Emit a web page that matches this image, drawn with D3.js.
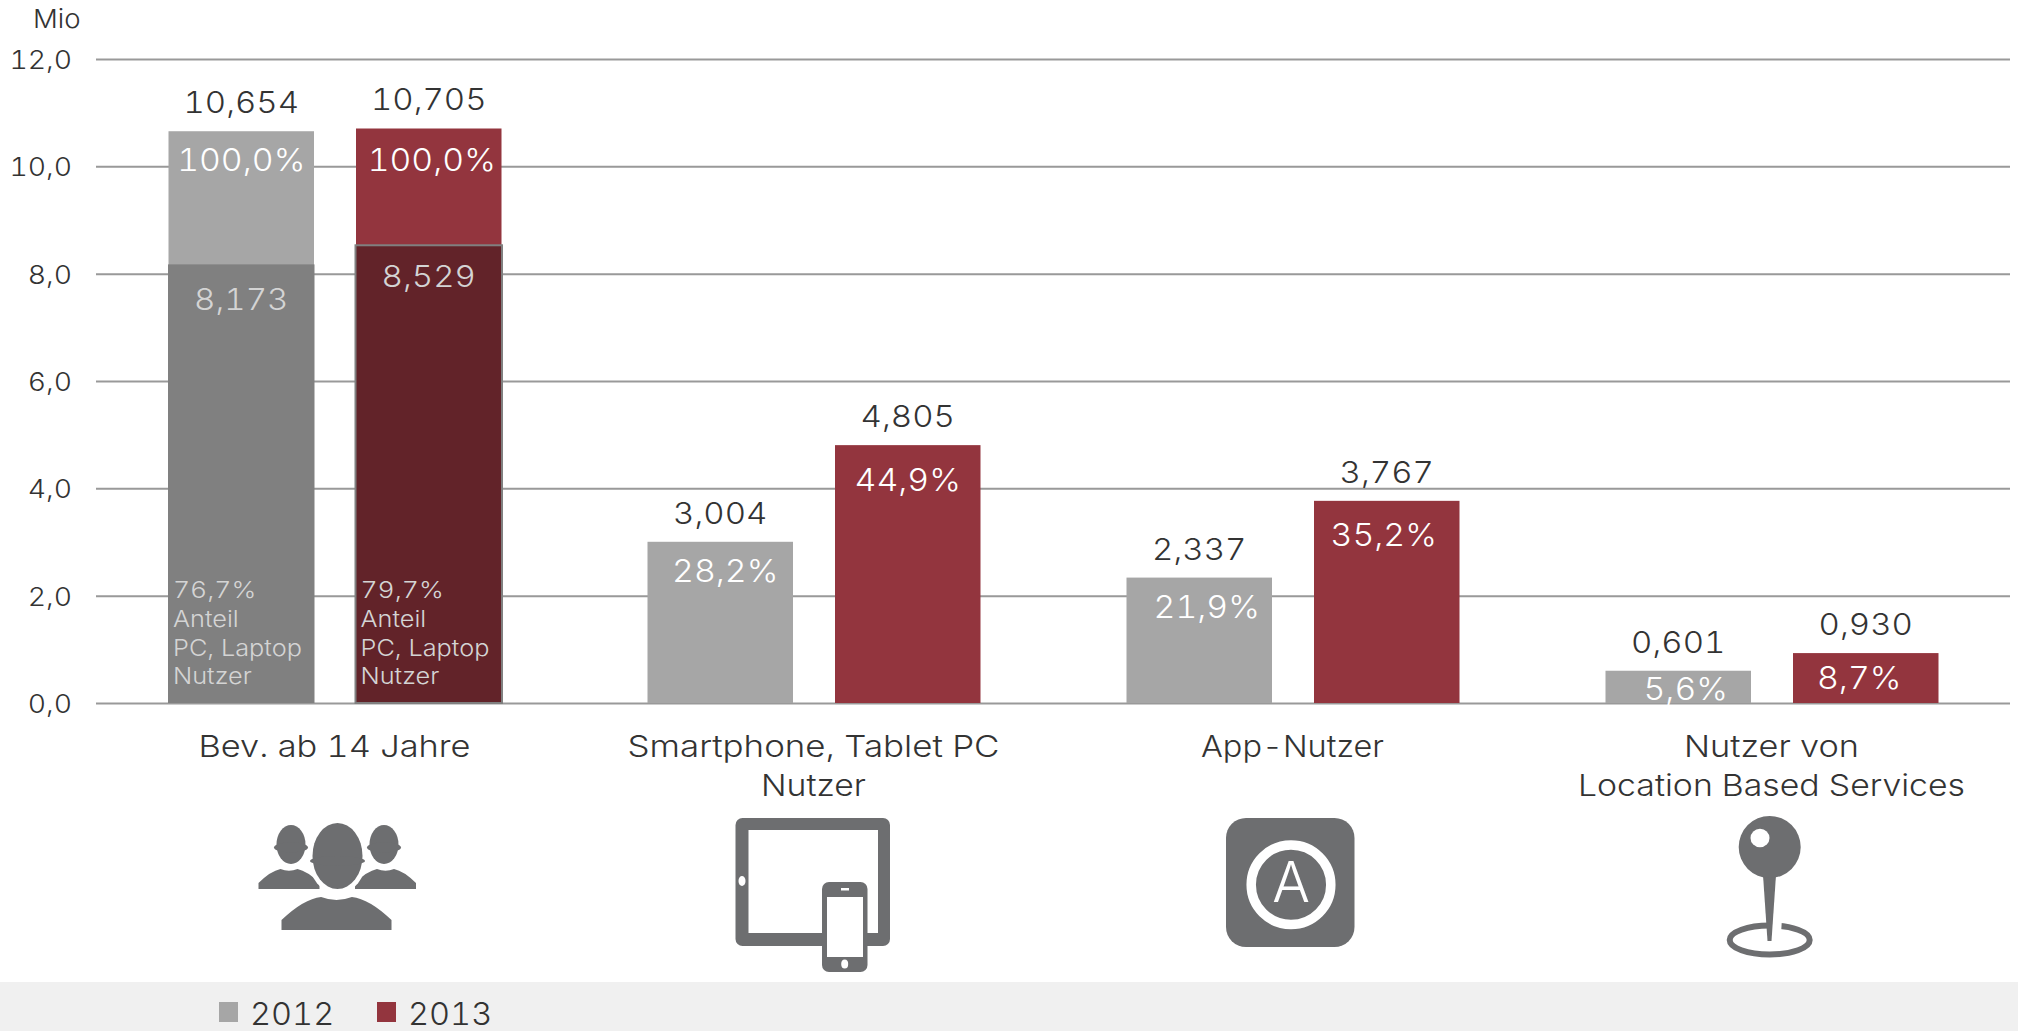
<!DOCTYPE html>
<html>
<head>
<meta charset="utf-8">
<script src="https://cdn.jsdelivr.net/npm/d3@7"></script>
<style>
  html, body { margin: 0; padding: 0; background: #fff; }
  svg { display: block; }
  text { font-family: Inter, "Liberation Sans", sans-serif; font-weight: 300; font-variant-numeric: tabular-nums; }
</style>
</head>
<body>
<svg id="chart" width="2018" height="1031"></svg>
<script>
// DATA
const categories = ["Bev. ab 14 Jahre", "Smartphone, Tablet PC|Nutzer", "App-Nutzer", "Nutzer von|Location Based Services"];
const years = ["2012", "2013"];
const values2012 = [10.654, 3.004, 2.337, 0.601];
const values2013 = [10.705, 4.805, 3.767, 0.930];
const shares2012 = ["100,0%", "28,2%", "21,9%", "5,6%"];
const shares2013 = ["100,0%", "44,9%", "35,2%", "8,7%"];
const pcUsers = [8.173, 8.529];
const pcShares = ["76,7%", "79,7%"];
const yTicks = [0, 2, 4, 6, 8, 10, 12];

// CANVAS SETUP
const width = 2018, height = 1031;
const svg = d3.select("#chart");
const numFmt = d3.formatLocale({ decimal: ",", thousands: ".", grouping: [3], currency: ["", ""] });
const fmt3 = numFmt.format(".3f"), fmt1 = numFmt.format(".1f");

const y = d3.scaleLinear().domain([0, 12]).range([703, 59]);
const x0 = d3.scaleBand().domain(categories).range([95.5, 2011.5]);
const x1 = d3.scaleBand().domain(years).range([-166.5, 166.5]).paddingInner(0.224);
const color = d3.scaleOrdinal().domain(years).range(["#a6a6a6", "#93353e"]);
const darker = d3.scaleOrdinal().domain(years).range(["#808080", "#622329"]);

const rows = categories.flatMap((c, i) => [
  { cat: c, i, year: "2012", value: values2012[i], share: shares2012[i] },
  { cat: c, i, year: "2013", value: values2013[i], share: shares2013[i] },
]);
const barX = (d) => x0(d.cat) + x0.bandwidth() / 2 + x1(d.year);
const barMid = (d) => barX(d) + x1.bandwidth() / 2;

// the reference type is stretched sideways, so widen the glyphs the same way
const stretch = (sel, k) => sel.each(function () {
  d3.select(this).attr("textLength", this.getComputedTextLength() * k).attr("lengthAdjust", "spacingAndGlyphs");
});

// bottom band
svg.append("rect").attr("x", 0).attr("y", 982).attr("width", width).attr("height", height - 982).attr("fill", "#f0f0f0");

// AXIS
const gy = svg.append("g").attr("transform", "translate(96,0)")
  .call(d3.axisLeft(y).tickValues(yTicks).tickFormat(fmt1).tickSize(-1914).tickPadding(24));
gy.select(".domain").remove();
gy.selectAll(".tick line").attr("stroke", "#999").attr("stroke-width", 2);
gy.selectAll(".tick text").attr("fill", "#333").style("font-size", "26px").attr("dy", "0.36em").call(stretch, 1.09);
svg.append("text").attr("x", 33).attr("y", 28).attr("fill", "#333").style("font-size", "26px").text("Mio").call(stretch, 1.06);

// BARS
svg.append("g").selectAll("rect").data(rows).join("rect")
  .attr("x", barX).attr("width", x1.bandwidth())
  .attr("y", (d) => y(d.value)).attr("height", (d) => y(0) - y(d.value))
  .attr("fill", (d) => color(d.year));

// PC, laptop part of the first group
svg.append("g").selectAll("rect").data(years).join("rect")
  .attr("x", (d) => x0(categories[0]) + x0.bandwidth() / 2 + x1(d) - 0.5)
  .attr("width", x1.bandwidth() + 1)
  .attr("y", (d, i) => y(pcUsers[i]))
  .attr("height", (d, i) => y(0) - y(pcUsers[i]))
  .attr("fill", (d) => darker(d))
  .attr("stroke", (d) => (d === "2013" ? "#808080" : "none"))
  .attr("stroke-width", 2);

// LABELS
const labelFont = "30px";
// share labels do not sit quite centred in the reference
const shareNudge = [0, 3, 5, 0, 7.5, -3, 7.5, -6.5];
const shareDrop = [39.5, 42.5, 40, 45.5, 40, 45, 29.3, 36.3];

svg.append("g").selectAll("text").data(rows).join("text")
  .attr("x", barMid).attr("y", (d) => y(d.value) - 18)
  .attr("text-anchor", "middle").attr("fill", "#333")
  .style("font-size", labelFont)
  .text((d) => fmt3(d.value))
  .call(stretch, 1.1);

svg.append("g").selectAll("text").data(rows).join("text")
  .attr("x", (d, i) => barMid(d) + shareNudge[i])
  .attr("y", (d, i) => y(d.value) + shareDrop[i])
  .attr("text-anchor", "middle").attr("fill", "#fff")
  .style("font-size", "31px")
  .text((d) => d.share)
  .call(stretch, 1.09);

svg.append("g").selectAll("text").data(years).join("text")
  .attr("x", (d) => x0(categories[0]) + x0.bandwidth() / 2 + x1(d) + x1.bandwidth() / 2)
  .attr("y", (d, i) => y(pcUsers[i]) + (i ? 42 : 46))
  .attr("text-anchor", "middle").attr("fill", "#d4d4d4")
  .style("font-size", labelFont)
  .text((d, i) => fmt3(pcUsers[i]))
  .call(stretch, 1.1);

years.forEach((yr, i) => {
  [pcShares[i], "Anteil", "PC, Laptop", "Nutzer"].forEach((line, k) => {
    svg.append("text").attr("fill", "#d4d4d4").style("font-size", "23px")
      .attr("x", x0(categories[0]) + x0.bandwidth() / 2 + x1(yr) + 4.5)
      .attr("y", y(0) - 105 + k * 28.8)
      .text(line)
      .call(stretch, k === 0 ? 1.15 : 1.1);
  });
});

// category names
const catWidths = [[272], [372, 105], [183], [175, 387]];
categories.forEach((c, i) => {
  c.split("|").forEach((line, k) => {
    svg.append("text").attr("text-anchor", "middle").attr("fill", "#333").style("font-size", "30px")
      .attr("x", x0(c) + x0.bandwidth() / 2 - 0.5).attr("y", 757 + k * 38.5)
      .attr("textLength", catWidths[i][k]).attr("lengthAdjust", "spacingAndGlyphs")
      .text(line);
  });
});

// LEGEND
const lg = svg.append("g").selectAll("g").data(years).join("g")
  .attr("transform", (d, i) => `translate(${219 + i * 158},1002)`);
lg.append("rect").attr("width", 19).attr("height", 20).attr("fill", (d) => color(d));
lg.append("text").attr("x", 31).attr("y", 23).attr("fill", "#333")
  .style("font-size", "31px").text((d) => d).call(stretch, 1.05);

// ICONS
const ic = "#6d6e70";
function person(g, cx, bodyCx, headTop, headRx, headRy, bodyW, bodyTop, bodyBottom) {
  g.append("path").attr("fill", ic).attr("d",
    `M${bodyCx - bodyW},${bodyBottom} L${bodyCx - bodyW},${bodyBottom - (bodyBottom - bodyTop) * 0.3}
     Q${bodyCx - bodyW * 0.6},${bodyTop + 2} ${bodyCx - bodyW * 0.28},${bodyTop}
     Q${bodyCx},${bodyTop + (bodyBottom - bodyTop) * 0.18} ${bodyCx + bodyW * 0.28},${bodyTop}
     Q${bodyCx + bodyW * 0.6},${bodyTop + 2} ${bodyCx + bodyW},${bodyBottom - (bodyBottom - bodyTop) * 0.3}
     L${bodyCx + bodyW},${bodyBottom} Z`);
  g.append("ellipse").attr("fill", ic).attr("cx", cx).attr("cy", headTop + headRy).attr("rx", headRx).attr("ry", headRy);
  g.append("ellipse").attr("fill", ic).attr("cx", cx).attr("cy", headTop + headRy * 1.15).attr("rx", headRx + 2.5).attr("ry", 5);
}
const people = svg.append("g");
person(people, 291, 289, 825, 14.5, 19.5, 30.5, 869, 889);
person(people, 384, 385.5, 825, 14.5, 19.5, 30.5, 869, 889);
people.append("ellipse").attr("cx", 337.5).attr("cy", 857).attr("rx", 29).attr("ry", 37).attr("fill", "#fff");
person(people, 337.5, 336.5, 823, 25, 33, 55, 897, 930);

const tablet = svg.append("g");
tablet.append("rect").attr("x", 735.5).attr("y", 818).attr("width", 154.5).attr("height", 128).attr("rx", 7).attr("fill", ic);
tablet.append("rect").attr("x", 748.5).attr("y", 830).attr("width", 129.5).attr("height", 103).attr("fill", "#fff");
tablet.append("ellipse").attr("cx", 742).attr("cy", 881).attr("rx", 3.5).attr("ry", 5).attr("fill", "#fff");
tablet.append("rect").attr("x", 822).attr("y", 882).attr("width", 45.5).attr("height", 90).attr("rx", 7).attr("fill", ic);
tablet.append("rect").attr("x", 827).attr("y", 897).attr("width", 36).attr("height", 60).attr("fill", "#fff");
tablet.append("rect").attr("x", 841).attr("y", 888).attr("width", 8).attr("height", 2.5).attr("fill", "#fff");
tablet.append("ellipse").attr("cx", 844.7).attr("cy", 964).attr("rx", 3.5).attr("ry", 4.5).attr("fill", "#fff");

const app = svg.append("g");
app.append("rect").attr("x", 1226).attr("y", 818).attr("width", 128.5).attr("height", 129).attr("rx", 20).attr("fill", ic);
app.append("circle").attr("cx", 1291).attr("cy", 884.7).attr("r", 39.8).attr("fill", "none").attr("stroke", "#fff").attr("stroke-width", 9.5);
app.append("text").attr("x", 1291).attr("y", 902).attr("text-anchor", "middle").attr("fill", "#fff").style("font-size", "56px").text("A");

const pin = svg.append("g");
pin.append("ellipse").attr("cx", 1769.7).attr("cy", 940).attr("rx", 40).attr("ry", 14.5).attr("fill", "none").attr("stroke", ic).attr("stroke-width", 6);
pin.append("path").attr("d", "M1771,918 L1782,918 L1781,934 L1771,932 Z").attr("fill", "#fff");
pin.append("path").attr("d", "M1763,875 L1776,875 L1771.5,941 L1767.5,941 Z").attr("fill", ic);
pin.append("ellipse").attr("cx", 1769.7).attr("cy", 847).attr("rx", 31).attr("ry", 31).attr("fill", ic);
pin.append("ellipse").attr("cx", 1760).attr("cy", 838).attr("rx", 9.5).attr("ry", 9.3).attr("fill", "#fff");
</script>
</body>
</html>
